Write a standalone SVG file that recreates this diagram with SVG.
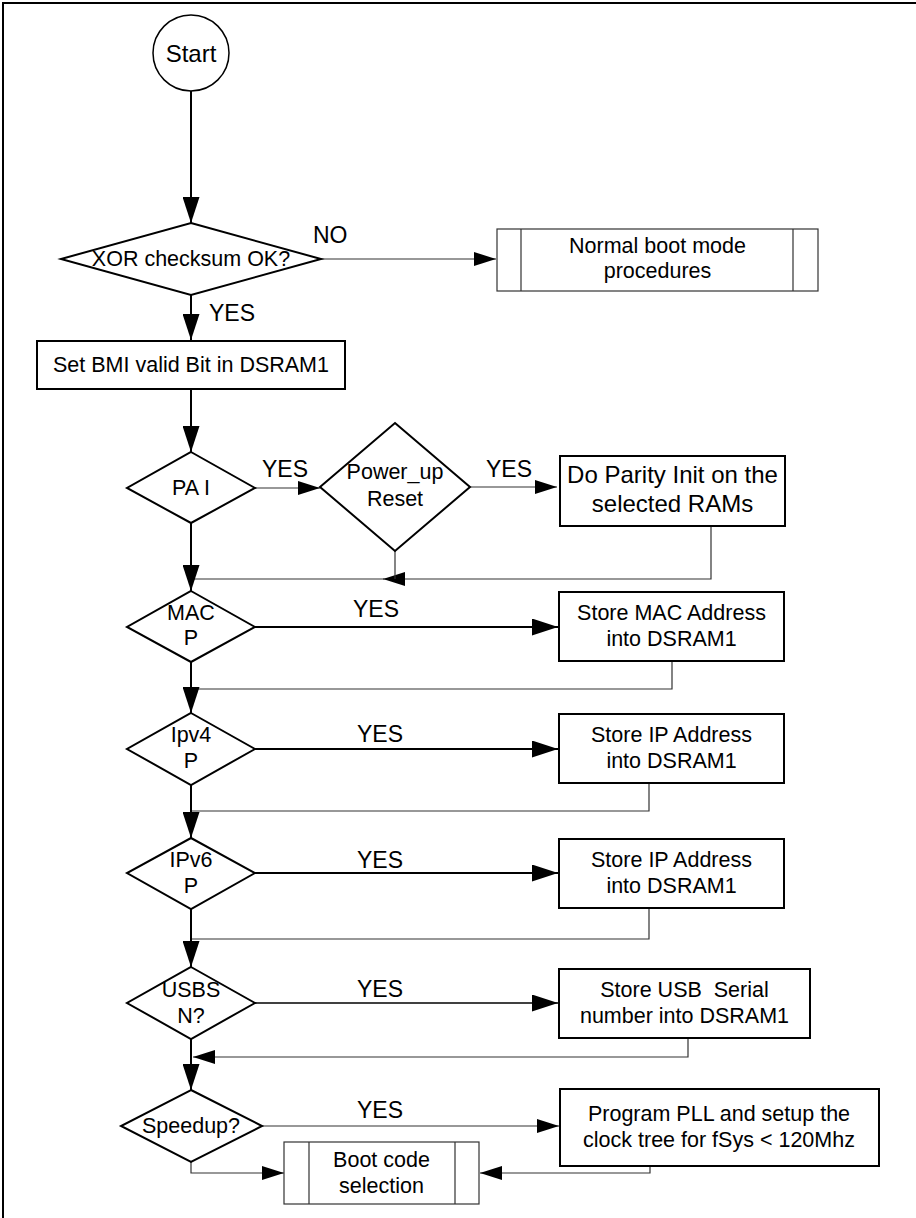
<svg xmlns="http://www.w3.org/2000/svg" width="916" height="1218" viewBox="0 0 916 1218">
<defs>
<style>
text{font-family:"Liberation Sans",Arial,sans-serif;font-size:21.5px;fill:#000}
.c{text-anchor:middle}
.big{font-size:24px}
.lbl{font-size:23px}
.shape{fill:#fff;stroke:#000;stroke-width:2}
.thin{fill:none;stroke:#333;stroke-width:1.2}
.thick{fill:none;stroke:#000;stroke-width:2}
</style>
<marker id="ab" viewBox="0 0 26 17" refX="26" refY="8.5" markerWidth="26" markerHeight="17" orient="auto" markerUnits="userSpaceOnUse"><path d="M0,0 L26,8.5 L0,17 z" fill="#000"/></marker>
<marker id="as" viewBox="0 0 22 14" refX="22" refY="7" markerWidth="22" markerHeight="14" orient="auto" markerUnits="userSpaceOnUse"><path d="M0,0 L22,7 L0,14 z" fill="#000"/></marker>
</defs>
<rect width="916" height="1218" fill="#fff"/>
<path d="M3,1218 V3 H916" fill="none" stroke="#000" stroke-width="2"/>

<g id="connectors">
<path class="thick" d="M191,91 V223" marker-end="url(#ab)"/>
<path class="thin" d="M321,259 H496" marker-end="url(#as)"/>
<path class="thick" d="M191,295 V340" marker-end="url(#ab)"/>
<path class="thick" d="M191,389 V452" marker-end="url(#ab)"/>
<path class="thin" d="M255,488 H320" marker-end="url(#as)"/>
<path class="thin" d="M470,487 H557" marker-end="url(#as)"/>
<path class="thin" d="M711,526 V579 H383" marker-end="url(#as)"/>
<path class="thin" d="M384,579 H191"/>
<path class="thin" d="M395,551 V579"/>
<path class="thick" d="M191,523 V591" marker-end="url(#ab)"/>
<path class="thick" d="M255,627 H558" marker-end="url(#ab)"/>
<path class="thin" d="M672,661 V689 H191"/>
<path class="thick" d="M191,662 V713" marker-end="url(#ab)"/>
<path class="thick" d="M255,749 H558" marker-end="url(#ab)"/>
<path class="thin" d="M649,783 V811 H191"/>
<path class="thick" d="M191,785 V838" marker-end="url(#ab)"/>
<path class="thick" d="M255,873 H558" marker-end="url(#ab)"/>
<path class="thin" d="M649,908 V939 H191"/>
<path class="thick" d="M191,909 V967" marker-end="url(#ab)"/>
<path class="thick" style="stroke-width:1.5" d="M255,1003 H558" marker-end="url(#ab)"/>
<path class="thin" d="M688,1038 V1057 H193" marker-end="url(#as)"/>
<path class="thick" d="M191,1039 V1090" marker-end="url(#ab)"/>
<path class="thin" d="M262,1126 H559" marker-end="url(#as)"/>
<path class="thin" d="M650,1166 V1173 H480" marker-end="url(#as)"/>
<path class="thin" d="M191,1162 V1173 H284" marker-end="url(#as)"/>
<text class="lbl" x="313" y="243">NO</text>
<text class="lbl" x="209" y="321">YES</text>
<text class="lbl" x="262" y="477">YES</text>
<text class="lbl" x="486" y="477">YES</text>
<text class="lbl" x="353" y="617">YES</text>
<text class="lbl" x="357" y="742">YES</text>
<text class="lbl" x="357" y="868">YES</text>
<text class="lbl" x="357" y="997">YES</text>
<text class="lbl" x="357" y="1118">YES</text>
</g>

<g id="start">
<circle class="shape" cx="191" cy="53" r="38" style="stroke-width:1.5"/>
<text class="c" x="191" y="62" style="font-size:24px">Start</text>
</g>
<g id="xor">
<polygon class="shape" points="191,223 321,259 191,295 61,259"/>
<text class="c" x="191" y="266">XOR checksum OK?</text>
</g>
<g id="normal-boot">
<rect class="shape" x="497" y="229" width="321" height="62" style="stroke:#333;stroke-width:1.2"/>
<path d="M521,229 V291 M793,229 V291" stroke="#333" stroke-width="1.2"/>
<text class="c" x="657.5" y="253">Normal boot mode</text>
<text class="c" x="657.5" y="278">procedures</text>
</g>
<g id="set-bmi">
<rect class="shape" x="37" y="341" width="308" height="48"/>
<text class="c" x="191" y="372">Set BMI valid Bit in DSRAM1</text>
</g>
<g id="pai">
<polygon class="shape" points="191,452 255,488 191,523 127,488"/>
<text class="c" x="191" y="495">PA I</text>
</g>
<g id="powerup">
<polygon class="shape" points="395,423 470,487 395,551 320,487"/>
<text class="c" x="395" y="479">Power_up</text>
<text class="c" x="395" y="506">Reset</text>
</g>
<g id="parity">
<rect class="shape" x="560" y="456" width="225" height="70"/>
<text class="c big" x="672.5" y="483">Do Parity Init on the</text>
<text class="c big" x="672.5" y="512">selected RAMs</text>
</g>
<g id="mac">
<polygon class="shape" points="191,591 255,627 191,662 127,627"/>
<text class="c" x="191" y="620">MAC</text>
<text class="c" x="191" y="645">P</text>
</g>
<g id="store-mac">
<rect class="shape" x="559" y="592" width="225" height="69"/>
<text class="c" x="671.5" y="620">Store MAC Address</text>
<text class="c" x="671.5" y="646">into DSRAM1</text>
</g>
<g id="ipv4">
<polygon class="shape" points="191,713 255,749 191,785 127,749"/>
<text class="c" x="191" y="742">Ipv4</text>
<text class="c" x="191" y="768">P</text>
</g>
<g id="store-ip4">
<rect class="shape" x="559" y="714" width="225" height="69"/>
<text class="c" x="671.5" y="742">Store IP Address</text>
<text class="c" x="671.5" y="768">into DSRAM1</text>
</g>
<g id="ipv6">
<polygon class="shape" points="191,838 255,873 191,909 127,873"/>
<text class="c" x="191" y="867">IPv6</text>
<text class="c" x="191" y="893">P</text>
</g>
<g id="store-ip6">
<rect class="shape" x="559" y="839" width="225" height="69"/>
<text class="c" x="671.5" y="867">Store IP Address</text>
<text class="c" x="671.5" y="893">into DSRAM1</text>
</g>
<g id="usbsn">
<polygon class="shape" points="191,967 255,1003 191,1039 127,1003"/>
<text class="c" x="191" y="997">USBS</text>
<text class="c" x="191" y="1023">N?</text>
</g>
<g id="store-usb">
<rect class="shape" x="559" y="969" width="251" height="69"/>
<text class="c" x="684.5" y="997" style="white-space:pre">Store USB  Serial</text>
<text class="c" x="684.5" y="1023">number into DSRAM1</text>
</g>
<g id="speedup">
<polygon class="shape" points="191,1090 262,1126 191,1162 121,1126"/>
<text class="c" x="191" y="1133">Speedup?</text>
</g>
<g id="pll">
<rect class="shape" x="560" y="1089" width="319" height="77"/>
<text class="c" x="719" y="1121">Program PLL and setup the</text>
<text class="c" x="719" y="1147">clock tree for fSys &lt; 120Mhz</text>
</g>
<g id="boot-code">
<rect class="shape" x="284" y="1142" width="195" height="62" style="stroke:#333;stroke-width:1.2"/>
<path d="M309,1142 V1204 M455,1142 V1204" stroke="#333" stroke-width="1.2"/>
<text class="c" x="381.5" y="1167">Boot code</text>
<text class="c" x="381.5" y="1193">selection</text>
</g>
</svg>
